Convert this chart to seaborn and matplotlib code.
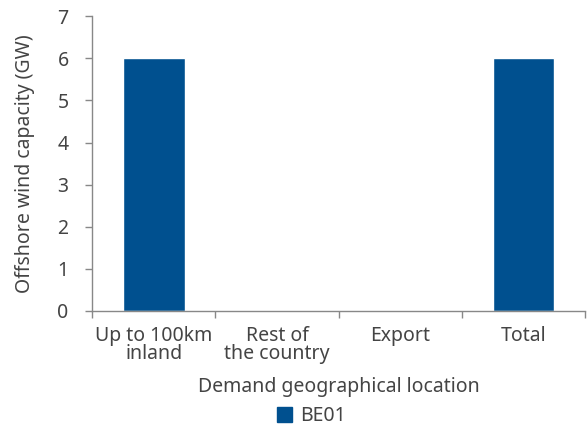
import matplotlib
matplotlib.use("Agg")
import matplotlib.pyplot as plt
import seaborn as sns
import pandas as pd
from matplotlib.patches import Patch

categories = ["Up to 100km\ninland", "Rest of\nthe country", "Export", "Total"]
values = [6, 0, 0, 6]
series = "BE01"

sns.set_style("white")
plt.rcParams['font.family'] = ['Noto Sans', 'DejaVu Sans']
text_color = "#444444"
bar_color = "#00508f"

df = pd.DataFrame({"cat": categories, "val": values})

fig = plt.figure(figsize=(5.87, 4.26), dpi=100)
ax = fig.add_axes([0.157, 0.27, 0.84, 0.692])
sns.barplot(data=df, x="cat", y="val", color=bar_color, width=0.5,
            saturation=1, ax=ax)

fs = 14
ax.set_ylim(0, 7)
ax.set_xlim(-0.5, 3.5)
ax.set_yticks(range(0, 8))
ax.set_xticks([-0.5, 0.5, 1.5, 2.5, 3.5], minor=False)
ax.set_xticklabels([])
ax.set_xticks([0, 1, 2, 3], minor=True)
ax.set_xticklabels(categories, minor=True, fontsize=fs, color=text_color,
                   linespacing=0.85)
ax.tick_params(axis="x", which="minor", length=0, pad=11)
ax.tick_params(axis="x", which="major", length=5, width=1, color="#888888", direction="out")
ax.tick_params(axis="y", length=5, width=1, color="#888888", labelsize=fs,
               labelcolor=text_color, direction="out", pad=12)
ax.tick_params(bottom=True, left=True, which="major")

for s in ["top", "right"]:
    ax.spines[s].set_visible(False)
for s in ["left", "bottom"]:
    ax.spines[s].set_color("#888888")
    ax.spines[s].set_linewidth(1)

ax.set_xlabel("Demand geographical location", fontsize=fs, color=text_color, labelpad=9)
ax.set_ylabel("Offshore wind capacity (GW)", fontsize=fs, color=text_color, labelpad=16)

handles = [Patch(facecolor=bar_color, edgecolor=bar_color, label=series)]
fig.legend(handles=handles, loc="lower center", bbox_to_anchor=(0.53, -0.042),
           frameon=False, fontsize=fs, labelcolor=text_color,
           handlelength=0.8, handleheight=0.8, handletextpad=0.4)

fig.savefig("out.png", dpi=100)
